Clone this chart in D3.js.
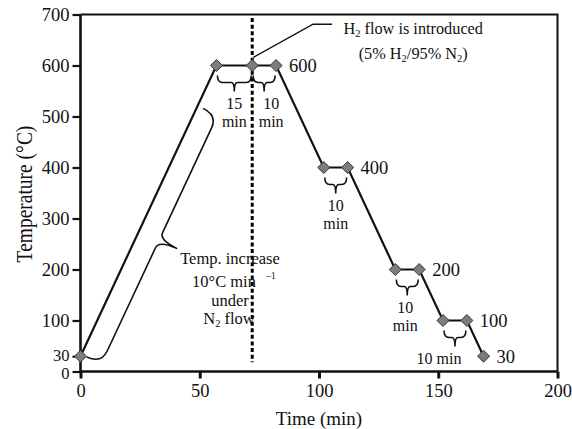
<!DOCTYPE html>
<html>
<head>
<meta charset="utf-8">
<script src="https://cdn.jsdelivr.net/npm/d3@7"></script>
<style>
  html, body { margin: 0; padding: 0; background: #fff; }
  svg { display: block; font-family: "Liberation Serif", "Times New Roman", serif; }
</style>
</head>
<body>
<svg id="chart" width="572" height="429"></svg>
<script>
// Heating / cooling programme: time (min) vs temperature (°C)
const times = [0, 57, 72, 82, 102, 112, 132, 142, 152, 162, 169];
const temps = [30, 600, 600, 600, 400, 400, 200, 200, 100, 100, 30];

// Axis ticks
const xTicks = [0, 50, 100, 150, 200];
const yTicks = [0, 30, 100, 200, 300, 400, 500, 600, 700];

// Hold-temperature labels: index of the point they sit beside
const holdLabelIdx = [3, 5, 7, 9, 10];

// Hold-period braces: start index, end index, lines of text
const braceStart = [1, 2, 4, 6, 8];
const braceEnd   = [2, 3, 5, 7, 9];
const braceText  = [["15", "min"], ["10", "min"], ["10", "min"], ["10", "min"], ["10 min"]];

// Time at which H2 is switched on
const h2Time = 72;

const SERIF = "'Liberation Serif', 'Times New Roman', serif";
const svg = d3.select("#chart");
const W = 572, H = 429;
const x = d3.scaleLinear().domain([0, 200]).range([80.5, 557.5]);
const y = d3.scaleLinear().domain([0, 700]).range([371.5, 14.5]);

svg.append("rect").attr("width", W).attr("height", H).attr("fill", "#fff");

// Frame: top and right borders
svg.append("path")
  .attr("d", `M${x(0)},${y(700)}H${x(200)}V${y(0)}`)
  .attr("fill", "none").attr("stroke", "#111").attr("stroke-width", 2);

// Axes
const xAxis = d3.axisBottom(x).tickValues(xTicks).tickSize(7).tickPadding(5).tickFormat(d3.format("d"));
const yAxis = d3.axisLeft(y).tickValues(yTicks).tickSize(8).tickPadding(3).tickFormat(d3.format("d"));

const gx = svg.append("g").attr("transform", `translate(0,${y(0)})`).call(xAxis);
const gy = svg.append("g").attr("transform", `translate(${x(0)},0)`).call(yAxis);

[gx, gy].forEach(g => {
  g.select(".domain").attr("stroke", "#111").attr("stroke-width", 2.6);
  g.selectAll(".tick line").attr("stroke", "#111");
  g.selectAll(".tick text")
    .attr("fill", "#111")
    .style("font-family", SERIF)
    .style("font-size", "18.5px");
});
gx.selectAll(".tick line").attr("stroke-width", 3);
gy.selectAll(".tick line").attr("stroke-width", 2.2);
gy.select(".domain").attr("d", `M0,${y(0)}V${y(700)}`);
gx.select(".domain").attr("d", `M${x(0)},0H${x(200)}`);
// the 30 and 0 labels sit very close together: a little smaller, nudged apart
gy.selectAll(".tick text").filter(d => d === 30 || d === 0).style("font-size", "16.5px");
gy.selectAll(".tick text").filter(d => d === 30).attr("dy", "0.26em");
gy.selectAll(".tick text").filter(d => d === 0).attr("dy", "0.44em");

// Axis titles
svg.append("text")
  .attr("x", x(100)).attr("y", 425)
  .attr("text-anchor", "middle")
  .attr("fill", "#111")
  .style("font-size", "19px")
  .text("Time (min)");

svg.append("text")
  .attr("transform", `translate(32,${y(348)}) scale(1.2,1) rotate(-90)`)
  .attr("text-anchor", "middle")
  .attr("fill", "#111")
  .style("font-size", "19.5px")
  .text("Temperature (°C)");

// H2 switch-on marker (dotted vertical)
svg.append("line")
  .attr("x1", x(h2Time)).attr("x2", x(h2Time))
  .attr("y1", y(693)).attr("y2", y(18))
  .attr("stroke", "#000").attr("stroke-width", 3)
  .attr("stroke-dasharray", "4,2.6");

// Leader line to the H2 note
const leader = [[h2Time + 0.5, 616], [97.5, 681], [105.5, 681]];
svg.append("path")
  .attr("d", d3.line().x(d => x(d[0])).y(d => y(d[1]))(leader))
  .attr("fill", "none").attr("stroke", "#111").attr("stroke-width", 1.5);

const note = svg.append("g").attr("fill", "#111").style("font-size", "16.3px").attr("text-anchor", "middle");
const n1 = note.append("text").attr("x", x(139.5)).attr("y", y(662));
n1.append("tspan").text("H");
n1.append("tspan").attr("dy", 3).style("font-size", "10.5px").text("2");
n1.append("tspan").attr("dy", -3).text(" flow is introduced");
const n2 = note.append("text").attr("x", x(139.5)).attr("y", y(613));
n2.append("tspan").text("(5% H");
n2.append("tspan").attr("dy", 3).style("font-size", "10.5px").text("2");
n2.append("tspan").attr("dy", -3).text("/95% N");
n2.append("tspan").attr("dy", 3).style("font-size", "10.5px").text("2");
n2.append("tspan").attr("dy", -3).text(")");

// Curly brace in local coordinates: runs along x from 0 to len,
// ends at y=0, body at y=h, pointed tip at (tipAt, h + tip)
function bracePath(len, h, tip, r, tipAt) {
  const m = tipAt === undefined ? len / 2 : tipAt;
  const p = d3.path();
  p.moveTo(0, 0);
  p.quadraticCurveTo(0, h, r, h);
  p.lineTo(m - r * 0.6, h);
  p.quadraticCurveTo(m, h, m, h + tip);
  p.quadraticCurveTo(m, h, m + r * 0.6, h);
  p.lineTo(len - r, h);
  p.quadraticCurveTo(len, h, len, 0);
  return p.toString();
}

// Hold-period braces with their labels
const braceDx = [0, 7, 0, -2, -16];
braceStart.forEach((si, k) => {
  const ei = braceEnd[k];
  const x1 = x(times[si]) + 1, x2 = x(times[ei]) - 1;
  const top = y(temps[si]) + 10;
  svg.append("path")
    .attr("transform", `translate(${x1},${top})`)
    .attr("d", bracePath(x2 - x1, 7, 9, 5))
    .attr("fill", "none").attr("stroke", "#111").attr("stroke-width", 1.6);
  const cx = (x1 + x2) / 2 + braceDx[k];
  braceText[k].forEach((t, j) => {
    svg.append("text")
      .attr("x", cx).attr("y", top + 33 + j * 18)
      .attr("text-anchor", "middle").attr("fill", "#111")
      .style("font-size", "16px").text(t);
  });
});

// Long brace beside the heating ramp
const p0 = [x(times[0]), y(temps[0])];
const p1 = [x(times[1]), y(temps[1])];
const ang = Math.atan2(p1[1] - p0[1], p1[0] - p0[0]) * 180 / Math.PI;
const rampLen = Math.hypot(p1[0] - p0[0], p1[1] - p0[1]);
svg.append("path")
  .attr("transform", `translate(${p0[0]},${p0[1]}) rotate(${ang}) translate(2,6)`)
  .attr("d", bracePath(rampLen * 0.855, 16, 20, 14, rampLen * 0.425))
  .attr("fill", "none").attr("stroke", "#111").attr("stroke-width", 1.6);

const rampNote = ["Temp. increase", "10°C min", "under", "N₂ flow"];
const rampX = [230, 224, 230, 229];
const rampG = svg.append("g").attr("fill", "#111").attr("text-anchor", "middle").style("font-size", "16.5px");
[264, 287, 306, 324].forEach((yy, i) => {
  const t = rampG.append("text").attr("x", rampX[i]).attr("y", yy);
  if (i === 3) {
    t.append("tspan").text("N");
    t.append("tspan").attr("dy", 3).style("font-size", "10.5px").text("2");
    t.append("tspan").attr("dy", -3).text(" flow");
  } else {
    t.text(rampNote[i]);
  }
});
rampG.append("text").attr("x", 271).attr("y", 279)
  .style("font-size", "9.5px").text("\u20131");

// Temperature profile
const pts = times.map((t, i) => [t, temps[i]]);
svg.append("path")
  .attr("d", d3.line().x(d => x(d[0])).y(d => y(d[1]))(pts))
  .attr("fill", "none").attr("stroke", "#111").attr("stroke-width", 2.2);

svg.selectAll(".pt").data(pts).enter().append("path")
  .attr("class", "pt")
  .attr("transform", d => `translate(${x(d[0])},${y(d[1])})`)
  .attr("d", "M0,-6L6,0L0,6L-6,0Z")
  .attr("fill", "#7d7d7d").attr("stroke", "#333").attr("stroke-width", 1);

// Hold-temperature labels
holdLabelIdx.forEach(i => {
  svg.append("text")
    .attr("x", x(times[i]) + 13).attr("y", y(temps[i]) + 6.5)
    .attr("fill", "#111").style("font-size", "18.5px")
    .text(temps[i]);
});
</script>
</body>
</html>
